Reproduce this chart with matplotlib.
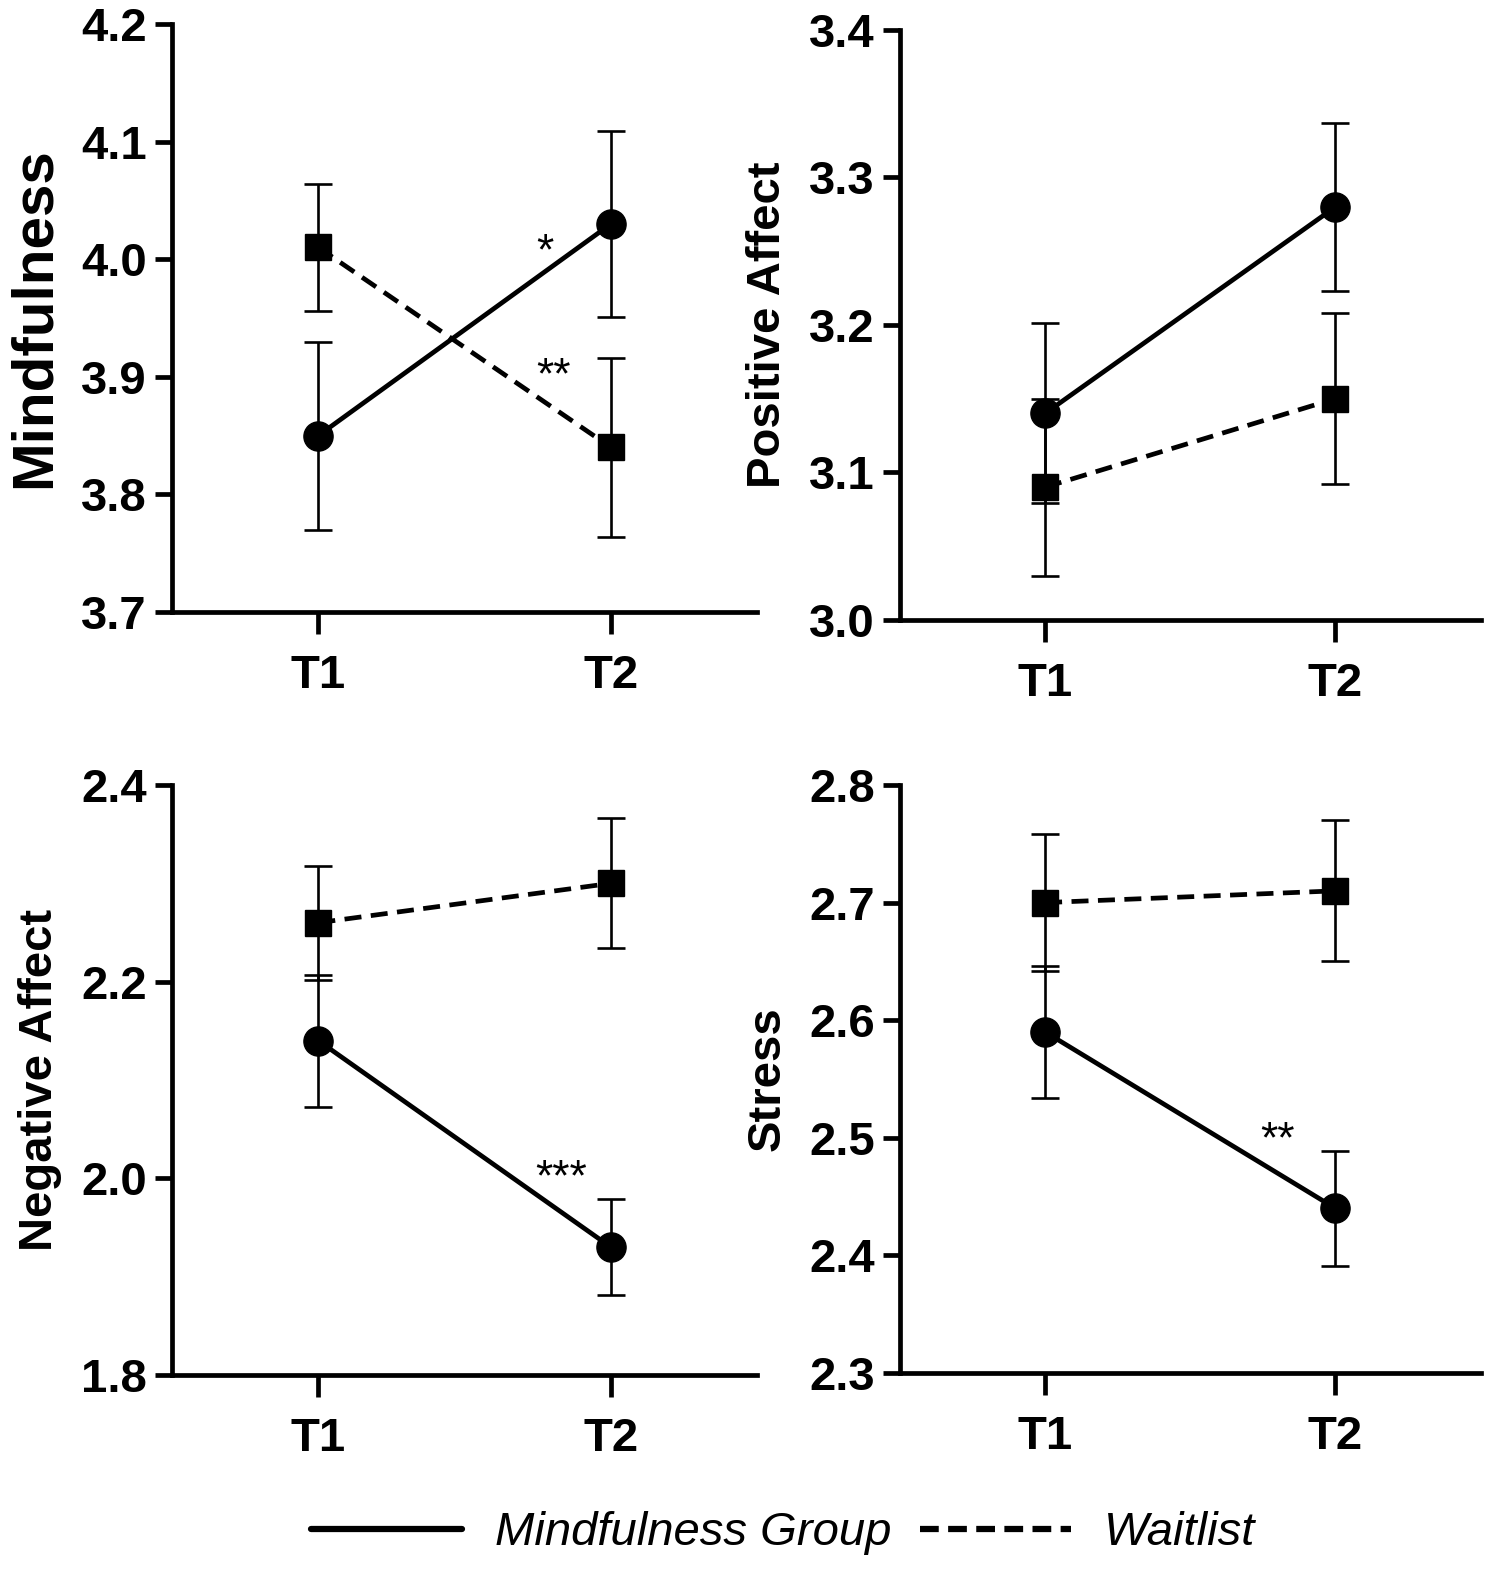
import matplotlib
matplotlib.use("Agg")
import matplotlib.pyplot as plt
from matplotlib.lines import Line2D

plt.rcParams["font.family"] = ["Liberation Sans", "DejaVu Sans"]

times = ["T1", "T2"]

# (mean, error) per group for each outcome
mind_mg = [3.85, 4.03]
mind_mg_err = [0.08, 0.079]
mind_wl = [4.01, 3.84]
mind_wl_err = [0.054, 0.076]

pos_mg = [3.14, 3.28]
pos_mg_err = [0.061, 0.057]
pos_wl = [3.09, 3.15]
pos_wl_err = [0.06, 0.058]

neg_mg = [2.14, 1.93]
neg_mg_err = [0.067, 0.049]
neg_wl = [2.26, 2.30]
neg_wl_err = [0.058, 0.066]

str_mg = [2.59, 2.44]
str_mg_err = [0.056, 0.049]
str_wl = [2.70, 2.71]
str_wl_err = [0.058, 0.06]

panels = [
    dict(label="Mindfulness", mg=mind_mg, mge=mind_mg_err, wl=mind_wl, wle=mind_wl_err,
         ylim=(3.7, 4.2), ticks=[3.7, 3.8, 3.9, 4.0, 4.1, 4.2], lsize=42,
         stars=[("*", 0.775, 4.005), ("**", 0.805, 3.9)],
         rect=[0.1138, 0.6156, 0.387, 0.3693]),
    dict(label="Positive Affect", mg=pos_mg, mge=pos_mg_err, wl=pos_wl, wle=pos_wl_err,
         ylim=(3.0, 3.4), ticks=[3.0, 3.1, 3.2, 3.3, 3.4], lsize=34,
         stars=[], rect=[0.5952, 0.6106, 0.384, 0.3706]),
    dict(label="Negative Affect", mg=neg_mg, mge=neg_mg_err, wl=neg_wl, wle=neg_wl_err,
         ylim=(1.8, 2.4), ticks=[1.8, 2.0, 2.2, 2.4], lsize=34,
         stars=[("***", 0.83, 2.0)], rect=[0.1138, 0.1363, 0.387, 0.3706]),
    dict(label="Stress", mg=str_mg, mge=str_mg_err, wl=str_wl, wle=str_wl_err,
         ylim=(2.3, 2.8), ticks=[2.3, 2.4, 2.5, 2.6, 2.7, 2.8], lsize=34,
         stars=[("**", 0.8, 2.497)], rect=[0.5952, 0.1376, 0.384, 0.3693]),
]

fig = plt.figure(figsize=(15.12, 15.92), dpi=100)
x = [0, 1]

for p in panels:
    ax = fig.add_axes(p["rect"])
    ax.errorbar(x, p["wl"], yerr=p["wle"], color="black", lw=3.4, ls=(0, (3.6, 2)),
                marker="s", ms=19, elinewidth=1.9, capsize=10, capthick=1.9)
    ax.errorbar(x, p["mg"], yerr=p["mge"], color="black", lw=3.4, ls="-",
                marker="o", ms=21, elinewidth=1.9, capsize=10, capthick=1.9)
    for s, sx, sy in p["stars"]:
        ax.text(sx, sy, s, ha="center", va="center", fontsize=32)
    ax.set_xlim(-0.5, 1.5)
    ax.set_ylim(*p["ylim"])
    ax.set_xticks(x)
    ax.set_xticklabels(times, fontsize=34, fontweight="bold")
    ax.set_yticks(p["ticks"])
    ax.set_yticklabels([f"{t:.1f}" for t in p["ticks"]], fontsize=34, fontweight="bold")
    ax.tick_params(axis="x", length=16, width=3.4, pad=14)
    ax.tick_params(axis="y", length=12, width=3.4, pad=6)
    for side in ("top", "right"):
        ax.spines[side].set_visible(False)
    for side in ("left", "bottom"):
        ax.spines[side].set_linewidth(3.4)
    ax.set_ylabel(p["label"], fontsize=p["lsize"], fontweight="bold", labelpad=14)
    ax.patch.set_alpha(0)

handles = [Line2D([], [], color="black", lw=4.5, solid_capstyle="round"),
           Line2D([], [], color="black", lw=4.5, ls=(0, (3, 1.5)))]
leg = fig.legend(handles, ["Mindfulness Group", "Waitlist"], loc="center",
                 bbox_to_anchor=(0.518, 0.037), ncol=2, frameon=False,
                 handlelength=3.2, handletextpad=0.7, columnspacing=0.6,
                 prop=dict(family=["Liberation Sans Narrow", "Liberation Sans"],
                           style="italic", size=34))

fig.savefig("out.png", dpi=100)
